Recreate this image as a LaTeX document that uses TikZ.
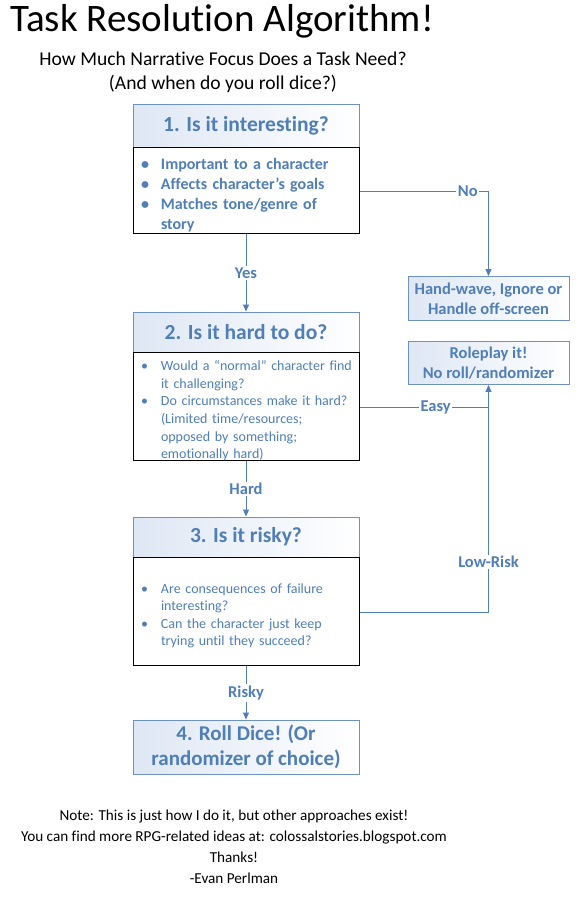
\documentclass[tikz,border=0pt]{standalone}
\usepackage{fontspec}
\setmainfont{Carlito}[Ligatures=NoCommon]
\usetikzlibrary{arrows.meta,positioning,calc}
\definecolor{flowblue}{RGB}{79,126,184}
\definecolor{hdrline}{RGB}{110,145,195}
\definecolor{hdrfill}{RGB}{222,231,244}
\newcommand{\bul}{\par\noindent\hangindent=25pt\hangafter=1\makebox[25pt][l]{\hspace{5pt}\textbullet}}

\begin{document}
\begin{tikzpicture}[x=1pt,y=-1pt,
  hdr/.style={draw=hdrline,line width=0.9pt,left color=hdrfill,right color=white,minimum width=226,inner sep=0,text=flowblue,font=\bfseries\fontsize{21.5}{25}\selectfont},
  body/.style={draw=black,line width=1pt,fill=white,text width=220,inner xsep=3,inner ysep=0,align=left,text=flowblue},
  side/.style={draw=hdrline,line width=0.9pt,left color=hdrfill,right color=white,minimum width=161,inner sep=0,align=center,text=flowblue,font=\bfseries\fontsize{16.5}{20}\selectfont},
  flow/.style={draw=flowblue,line width=0.9pt,-{Triangle[length=7pt,width=6pt]}},
  lbl/.style={fill=white,inner sep=1.5pt,text=flowblue,font=\bfseries\fontsize{16.5}{18}\selectfont}]
\useasboundingbox (0,0) rectangle (578,898);

% title
\node[anchor=base west,inner sep=0,font=\fontsize{39}{44}\selectfont] (title) at (10,31) {Task Resolution Algorithm!};
\node[anchor=base,inner sep=0,font=\fontsize{19.6}{24}\selectfont] (sub1) at (223,65) {How Much Narrative Focus Does a Task Need?};
\node[anchor=base,inner sep=0,font=\fontsize{19.6}{24}\selectfont] (sub2) at (223,89) {(And when do you roll dice?)};

% question boxes
\node[hdr,minimum height=43] (q1) at (246,125.5) {1. Is it interesting?};
\node[body,minimum height=86,below=0pt of q1,font=\bfseries\fontsize{16}{20}\selectfont] (b1)
  {\bul Important to a character\bul Affects character’s goals\bul Matches tone/genre of\newline story\par};

\node[hdr,minimum height=40] (q2) at (246,332) {2. Is it hard to do?};
\node[body,minimum height=108,below=0pt of q2,font=\fontsize{14}{17.6}\selectfont] (b2)
  {\bul Would a “normal” character find\newline it challenging?\bul Do circumstances make it hard?\newline (Limited time/resources;\newline opposed by something;\newline emotionally hard)\par};

\node[hdr,minimum height=40] (q3) at (246,537) {3. Is it risky?};
\node[body,minimum height=108,below=0pt of q3,font=\fontsize{14}{17.6}\selectfont] (b3)
  {\bul Are consequences of failure\newline interesting?\bul Can the character just keep\newline trying until they succeed?\par};

\node[hdr,minimum height=54,align=center,font=\bfseries\fontsize{21}{25}\selectfont] (dice) at (246,747) {4. Roll Dice! (Or\\randomizer of choice)};

% outcome boxes
\node[side,minimum height=44] (hand) at (488.5,298.5) {Hand-wave, Ignore or\\Handle off-screen};
\node[side,minimum height=43] (role) at (488.5,363) {Roleplay it!\\No roll/randomizer};

% connectors
\draw[flow] (b1) -- node[lbl] {Yes} (q2);
\draw[flow] (b2) -- node[lbl] {Hard} (q3);
\draw[flow] (b3) -- node[lbl] {Risky} (dice);
\draw[flow] (b1.east) -| node[lbl,pos=0.42] {No} (hand.north);
\draw[flow] (b3.east) -| node[lbl,pos=0.61] {Low-Risk} (role.south);
\draw[draw=flowblue,line width=0.9pt] (b2.east) -- node[lbl,pos=0.59] {Easy} (b2.east -| role.south);

% notes
\node[align=center,inner sep=0,font=\fontsize{15.2}{21}\selectfont] (notes) at (234,847)
  {Note: This is just how I do it, but other approaches exist!\\You can find more RPG-related ideas at: colossalstories.blogspot.com\\Thanks!\\-Evan Perlman};
\end{tikzpicture}
\end{document}
